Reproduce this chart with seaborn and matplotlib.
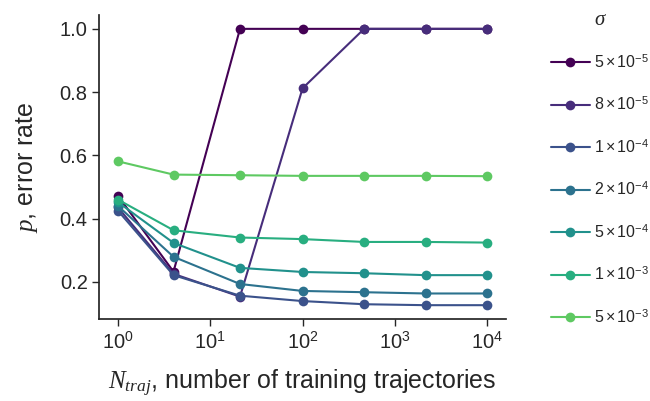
import matplotlib
matplotlib.use("Agg")
import matplotlib.pyplot as plt
from matplotlib.lines import Line2D
import numpy as np
import pandas as pd
import seaborn as sns

# Number of training trajectories (x axis, log scale)
n_traj = [1, 4, 21, 100, 464, 2154, 10000]

# Noise levels and their legend labels
sigma_labels = [
    r"$5\times10^{-5}$", r"$8\times10^{-5}$", r"$1\times10^{-4}$", r"$2\times10^{-4}$",
    r"$5\times10^{-4}$", r"$1\times10^{-3}$", r"$5\times10^{-3}$",
]

# Error rate p for each noise level
p_5e5 = [0.472, 0.232, 1.000, 1.000, 1.000, 1.000, 1.000]
p_8e5 = [0.435, 0.225, 0.153, 0.812, 1.000, 1.000, 1.000]
p_1e4 = [0.425, 0.221, 0.156, 0.139, 0.129, 0.126, 0.126]
p_2e4 = [0.440, 0.279, 0.193, 0.171, 0.167, 0.163, 0.163]
p_5e4 = [0.452, 0.323, 0.244, 0.231, 0.227, 0.221, 0.221]
p_1e3 = [0.460, 0.363, 0.340, 0.335, 0.326, 0.326, 0.324]
p_5e3 = [0.581, 0.539, 0.537, 0.535, 0.535, 0.535, 0.534]

series = [p_5e5, p_8e5, p_1e4, p_2e4, p_5e4, p_1e3, p_5e3]

rows = []
for lab, vals in zip(sigma_labels, series):
    for n, p in zip(n_traj, vals):
        rows.append({"N": n, "p": p, "sigma": lab})
df = pd.DataFrame(rows)

sns.set_theme(style="ticks")
plt.rcParams["font.family"] = ["Liberation Sans", "DejaVu Sans"]
plt.rcParams["mathtext.fontset"] = "custom"
plt.rcParams["mathtext.rm"] = "Liberation Sans"
plt.rcParams["mathtext.it"] = "Liberation Serif:italic"
plt.rcParams["mathtext.bf"] = "Liberation Sans:bold"

cmap = matplotlib.colormaps["viridis"]
palette = [cmap(i / 8) for i in range(len(sigma_labels))]

fig = plt.figure(figsize=(6.5, 4.01), dpi=100)
ax = fig.add_axes([0.153, 0.2045, 0.625, 0.758])

sns.lineplot(
    data=df, x="N", y="p", hue="sigma", hue_order=sigma_labels,
    palette=palette, marker="o", markersize=7, markeredgewidth=0,
    linewidth=1.5, legend=False, ax=ax,
)

ax.set_xscale("log")
ax.minorticks_off()
ax.set_xticks([1, 10, 100, 1000, 10000])
ax.set_yticks([0.2, 0.4, 0.6, 0.8, 1.0])
ax.tick_params(labelsize=14.5, length=5, width=1, colors=".15")
ax.set_xlabel(r"$N_{traj}$, number of training trajectories", fontsize=18, labelpad=11)
ax.set_ylabel(r"$p$, error rate", fontsize=18, labelpad=14)
for s in ax.spines.values():
    s.set_color(".15")
sns.despine(ax=ax)

handles = [
    Line2D([], [], color=c, marker="o", markersize=7, markeredgewidth=0, linewidth=1.5)
    for c in palette
]
leg = fig.legend(
    handles, sigma_labels, title=r"$\sigma$", loc="upper left",
    bbox_to_anchor=(0.826, 1.012), frameon=False, fontsize=11.5,
    title_fontsize=15, labelspacing=1.53, handlelength=2.4, handletextpad=0.3,
)

fig.savefig("out.png", dpi=100)
